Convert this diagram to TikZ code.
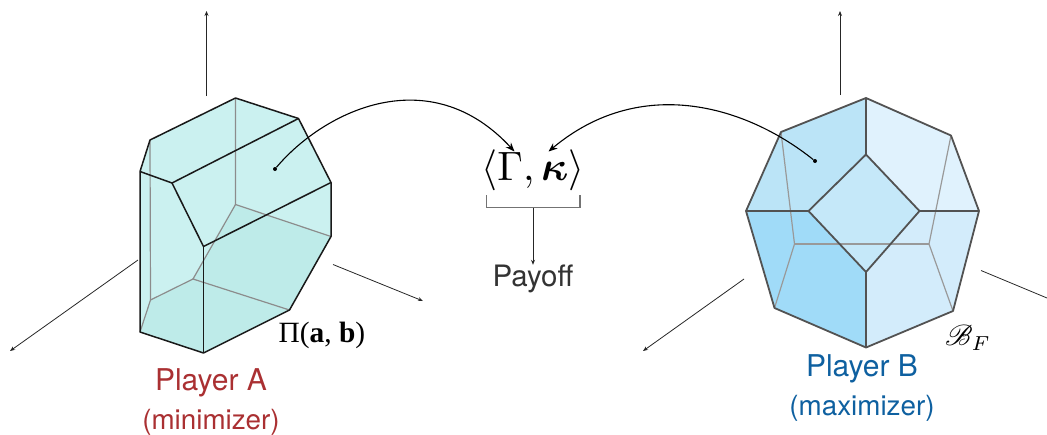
\documentclass[tikz,border=0pt]{standalone}
\usepackage{amsmath,amssymb}
\usepackage{mathrsfs}
\usepackage{graphicx}
\usepackage{fontspec}
\setmainfont{TeX Gyre Heros}
\newfontfamily\serifface{Liberation Serif}
\usetikzlibrary{arrows.meta, positioning}
\definecolor{playerred}{RGB}{170, 48, 50}
\definecolor{playerblue}{RGB}{14, 96, 160}
\definecolor{tealbase}{RGB}{203, 241, 240}
\definecolor{tealdark}{RGB}{190, 235, 233}
\definecolor{faceTL}{RGB}{187, 228, 247}
\definecolor{faceTR}{RGB}{224, 242, 253}
\definecolor{faceBL}{RGB}{160, 219, 248}
\definecolor{faceBR}{RGB}{211, 236, 251}
\definecolor{faceC}{RGB}{197, 232, 249}

\begin{document}
\begin{tikzpicture}[x=1pt, y=-1pt,
  axis/.style={-{Stealth[length=5pt, width=4pt]}, line width=0.8pt, black!85},
  link/.style={-{Stealth[length=9pt, width=7pt]}, line width=1.1pt, black},
  front/.style={line width=1.5pt, black!90},
  hidden/.style={line width=1.2pt, black!45},
  frontb/.style={line width=1.8pt, black!68},
  hiddenb/.style={line width=1.2pt, black!40},
  dot/.style={circle, fill=black, inner sep=0pt, minimum size=4pt},
  title/.style={font=\fontsize{30}{30}\selectfont, inner sep=0pt},
  role/.style={font=\fontsize{27.8}{28}\selectfont, inner sep=0pt}
]
\useasboundingbox (0,0) rectangle (1047,434);

% left solid
\coordinate (A) at (235.5,98);
\coordinate (B) at (298.5,118.5);
\coordinate (C) at (331,182.5);
\coordinate (D) at (331,236.5);
\coordinate (E) at (289.5,310);
\coordinate (F) at (203.5,353);
\coordinate (G) at (140,332);
\coordinate (H) at (140,171.5);
\coordinate (I) at (150,140);
\coordinate (J) at (172,183);
\coordinate (K) at (203.5,246.5);
\coordinate (L) at (235.5,204.5);
\coordinate (M) at (193,279);
\coordinate (N) at (150.5,300);

\fill[tealbase] (A) -- (B) -- (C) -- (D) -- (E) -- (F) -- (G) -- (H) -- (I) -- cycle;
\fill[tealdark] (N) -- (M) -- (L) -- (D) -- (E) -- (F) -- (G) -- cycle;
\draw[hidden] (A) -- (L) -- (D);
\draw[hidden] (L) -- (M) -- (E);
\draw[hidden] (M) -- (N) -- (G);
\draw[hidden] (I) -- (N);
\draw[front, line join=round] (A) -- (B) -- (C) -- (D) -- (E) -- (F) -- (G) -- (H) -- (I) -- cycle;
\draw[front] (H) -- (J) -- (B);
\draw[front] (J) -- (K) -- (C);
\draw[front] (K) -- (F);

% right solid
\coordinate (Tt) at (866,98);
\coordinate (Tr) at (951,135.5);
\coordinate (Rr) at (979,211);
\coordinate (Br) at (953,311);
\coordinate (Bb) at (866,347.5);
\coordinate (Bl) at (774.5,308);
\coordinate (Ll) at (746,211);
\coordinate (Tl) at (781,132);
\coordinate (Dt) at (866,154.5);
\coordinate (Dr) at (919.5,211);
\coordinate (Db) at (866,272);
\coordinate (Dl) at (808.5,211);
\coordinate (Hl) at (794.5,244);
\coordinate (Hr) at (929,244);

\fill[faceTL] (Ll) -- (Tl) -- (Tt) -- (Dt) -- (Dl) -- cycle;
\fill[faceTR] (Rr) -- (Tr) -- (Tt) -- (Dt) -- (Dr) -- cycle;
\fill[faceBL] (Ll) -- (Bl) -- (Bb) -- (Db) -- (Dl) -- cycle;
\fill[faceBR] (Rr) -- (Br) -- (Bb) -- (Db) -- (Dr) -- cycle;
\fill[faceC] (Dt) -- (Dr) -- (Db) -- (Dl) -- cycle;
\draw[hiddenb] (Tl) -- (Hl) -- (Bl);
\draw[hiddenb] (Tr) -- (Hr) -- (Br);
\draw[hiddenb] (Hl) -- (Hr);
\draw[frontb, line join=round] (Tt) -- (Tr) -- (Rr) -- (Br) -- (Bb) -- (Bl) -- (Ll) -- (Tl) -- cycle;
\draw[frontb, line join=round] (Dt) -- (Dr) -- (Db) -- (Dl) -- cycle;
\draw[frontb] (Tt) -- (Dt);
\draw[frontb] (Bb) -- (Db);
\draw[frontb] (Ll) -- (Dl);
\draw[frontb] (Rr) -- (Dr);

% axes
\coordinate (a0) at (206.5,96);
\coordinate (a1) at (206.5,11);
\coordinate (a2) at (138,260);
\coordinate (a3) at (10,351);
\coordinate (a4) at (333,264.5);
\coordinate (a5) at (423,301);
\coordinate (b0) at (840,95);
\coordinate (b1) at (840,11);
\coordinate (b2) at (744,279);
\coordinate (b3) at (643,351);
\coordinate (b4) at (981,270.5);
\coordinate (b5) at (1047,298);
\draw[axis] (a0) -- (a1);
\draw[axis] (a2) -- (a3);
\draw[axis] (a4) -- (a5);
\draw[axis] (b0) -- (b1);
\draw[axis] (b2) -- (b3);
\draw[line width=0.8pt, black!85] (b4) -- (b5);

% centre
\node[inner sep=0pt, outer sep=-2pt] (game) at (533,170) {\scalebox{4.1}{$\langle\Gamma,\boldsymbol{\kappa}\rangle$}};
\coordinate (brL) at (486.5,195);
\coordinate (brR) at (580,195);
\coordinate (brM) at (533,207.5);
\draw[line width=1.2pt, black!55] (brL) |- (brM) -| (brR);
\node[inner sep=0pt, font=\fontsize{29.5}{30}\selectfont, black!80] (payoff) at (533,279) {Payoff};
\draw[axis] (brM) -- (payoff.north);

% payoff maps
\node[dot] (ptA) at (275,169) {};
\node[dot] (ptB) at (815,161) {};
\draw[link] (ptA) .. controls (325,110) and (430,60) .. (game.135);
\draw[link] (ptB) .. controls (745,105) and (640,75) .. (game.50);

% labels
\node[inner sep=0pt] (payA) at (322,335) {\fontsize{29.4}{30}\selectfont\serifface Π(\textbf{a}, \textbf{b})};
\node[inner sep=0pt] (payB) at (968,338) {\scalebox{2.9}{$\mathscr{B}_F$}};
\node[title, playerred] (plA) at (211,383) {Player A};
\node[role, playerred, below=12pt of plA] (rlA) {(minimizer)};
\node[title, playerblue] (plB) at (862,369) {Player B};
\node[role, playerblue, below=12pt of plB] (rlB) {(maximizer)};
\end{tikzpicture}
\end{document}
